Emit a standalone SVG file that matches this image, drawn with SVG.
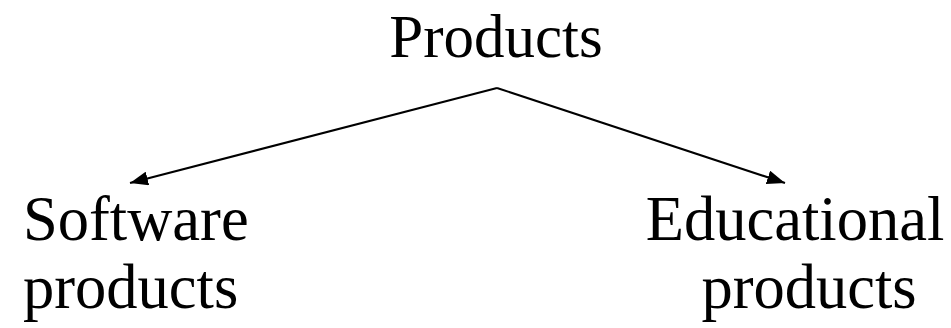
<svg xmlns="http://www.w3.org/2000/svg" width="951" height="328" viewBox="0 0 951 328">
<style>
text{font-family:"Liberation Serif","Times New Roman",serif;font-size:62.5px;fill:#000}
.c{stroke:#000;stroke-width:2;fill:none}
</style>
<defs>
<marker id="ah" markerUnits="userSpaceOnUse" markerWidth="20" markerHeight="14" refX="18" refY="7" orient="auto">
<path d="M0,0 L18,7 L0,14 Z" fill="#000"/>
</marker>
</defs>
<rect width="951" height="328" fill="#fff"/>
<g id="connectors">
<line class="c" x1="497" y1="88" x2="130" y2="183" marker-end="url(#ah)"/>
<line class="c" x1="497" y1="88" x2="785" y2="183" marker-end="url(#ah)"/>
</g>
<g id="products"><text x="496" y="57" text-anchor="middle" style="font-size:61px">Products</text></g>
<g id="software"><text x="23" y="240">Software</text><text x="23" y="308">products</text></g>
<g id="educational"><text x="795" y="240" text-anchor="middle">Educational</text><text x="809" y="308" text-anchor="middle">products</text></g>
</svg>
